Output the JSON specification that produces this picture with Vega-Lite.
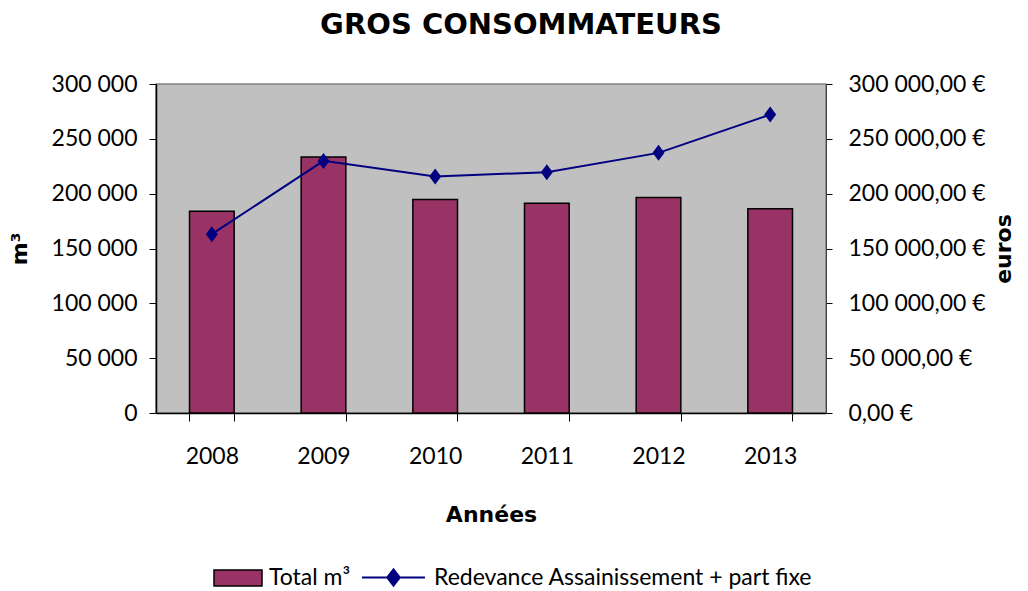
{
  "$schema": "https://vega.github.io/schema/vega-lite/v6.json",
  "width": 670,
  "height": 329,
  "autosize": "none",
  "padding": {"left": 156, "top": 84, "right": 202, "bottom": 178},
  "background": "white",
  "title": {"text": "GROS CONSOMMATEURS", "font": "DejaVu Sans", "fontSize": 29, "fontWeight": "bold", "color": "black", "anchor": "middle", "dx": 30, "offset": 33},
  "config": {
    "view": {"fill": "#C0C0C0", "stroke": "#808080", "strokeWidth": 1.5},
    "font": "Lato",
    "axis": {"labelFont": "Lato", "labelFontSize": 23, "labelColor": "black", "titleFont": "DejaVu Sans", "titleFontSize": 22, "titleFontWeight": "bold", "titleColor": "black", "domainColor": "black", "tickColor": "black", "grid": false},
    "legend": {"labelFont": "Lato", "labelFontSize": 23, "labelColor": "black", "labelLimit": 600}
  },
  "data": {"values": [
    {"annee": "2008", "m3": 184000, "euros": 163100},
    {"annee": "2009", "m3": 233500, "euros": 229900},
    {"annee": "2010", "m3": 194700, "euros": 215600},
    {"annee": "2011", "m3": 191300, "euros": 219600},
    {"annee": "2012", "m3": 196500, "euros": 237200},
    {"annee": "2013", "m3": 186200, "euros": 272100}
  ]},
  "encoding": {
    "x": {"field": "annee", "type": "ordinal", "scale": {"paddingInner": 0.6, "paddingOuter": 0.3},
      "axis": {"title": "Années", "labelAngle": 0, "tickBand": "extent", "tickSize": 8, "labelPadding": 24, "titlePadding": 36, "domainWidth": 1.5}}
  },
  "layer": [
    {
      "mark": {"type": "bar", "stroke": "black", "strokeWidth": 1.5},
      "encoding": {
        "y": {"field": "m3", "type": "quantitative", "scale": {"domain": [0, 300000]},
          "axis": {"orient": "left", "title": "m³", "values": [0, 50000, 100000, 150000, 200000, 250000, 300000], "labelExpr": "replace(format(datum.value, ',d'), ',', ' ')", "tickSize": 7, "labelPadding": 12, "titlePadding": 20, "domainWidth": 1.5}},
        "fill": {"datum": "Total m³", "type": "nominal", "scale": {"range": ["#993366"]},
          "legend": {"title": null, "orient": "none", "legendX": 57, "legendY": 469, "symbolType": "M-1,-0.33H1V0.33H-1Z", "symbolSize": 2304, "symbolStrokeColor": "black", "symbolStrokeWidth": 1.5, "labelOffset": 6}}
      }
    },
    {
      "encoding": {
        "y": {"field": "euros", "type": "quantitative", "scale": {"domain": [0, 300000]},
          "axis": {"orient": "right", "title": "euros", "titleAngle": 270, "titleBaseline": "top", "values": [0, 50000, 100000, 150000, 200000, 250000, 300000], "labelExpr": "replace(replace(format(datum.value, ',.2f'), ',', ' '), '.', ',') + ' €'", "tickSize": 6, "labelPadding": 16, "titlePadding": 8, "domainColor": "#404040"}}
      },
      "layer": [
        {
          "mark": {"type": "line", "strokeWidth": 2},
          "encoding": {
            "stroke": {"datum": "Redevance Assainissement + part fixe", "type": "nominal", "scale": {"range": ["#000080"]},
              "legend": {"title": null, "orient": "none", "legendX": 205, "legendY": 461, "symbolType": "M-1,0H1M0,-0.26L0.2,0L0,0.26L-0.2,0Z", "symbolSize": 3969, "symbolStrokeWidth": 2, "symbolFillColor": "#000080", "labelOffset": 8}}
          }
        },
        {
          "mark": {"type": "point", "shape": "M0,-1L0.75,0L0,1L-0.75,0Z", "size": 256, "filled": true, "color": "#000080", "opacity": 1}
        }
      ]
    }
  ],
  "resolve": {"scale": {"y": "independent", "fill": "independent", "stroke": "independent"}}
}
